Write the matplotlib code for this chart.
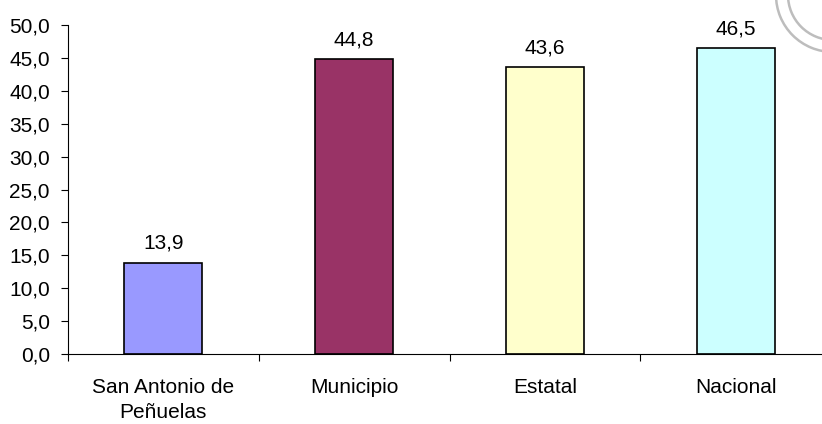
import matplotlib.pyplot as plt
from matplotlib.patches import Arc

plt.rcParams['font.family'] = ['Liberation Sans', 'DejaVu Sans']

categories = ["San Antonio de\nPeñuelas", "Municipio", "Estatal", "Nacional"]
values = [13.9, 44.8, 43.6, 46.5]
colors = ["#9999FF", "#993366", "#FFFFCC", "#CCFFFF"]

fig = plt.figure(figsize=(8.22, 4.24), dpi=100)
ax = fig.add_axes([68/822, 1-354/424, 763/822, 329/424])

x = range(len(values))
ax.bar(x, values, width=0.41, color=colors, edgecolor="black", linewidth=1.2)

for i, v in zip(x, values):
    ax.annotate(f"{v:.1f}".replace(".", ","), (i, v), xytext=(0, 7),
                textcoords="offset points", ha="center", va="bottom", fontsize=15)

ax.set_xlim(-0.5, 3.5)
ax.set_ylim(0, 50)
ax.set_yticks([i * 5 for i in range(11)])
ax.set_yticklabels([f"{i * 5:.1f}".replace(".", ",") for i in range(11)], fontsize=15)
ax.set_xticks([i - 0.5 for i in range(5)])
ax.set_xticklabels([])
ax.set_xticks(list(x), minor=True)
ax.set_xticklabels(categories, minor=True, fontsize=15)
ax.tick_params(axis="x", which="minor", length=0, pad=17)
ax.tick_params(axis="x", which="major", length=5, direction="out")
ax.tick_params(axis="y", length=5, direction="out", pad=8)
for lbl in ax.get_xticklabels(minor=True):
    lbl.set_linespacing(1.45)

ax.spines["top"].set_visible(False)
ax.spines["right"].set_visible(False)

# faint decorative arcs in top right corner
for r in [114, 90]:
    fig.patches.append(Arc((833, 429), r, r, theta1=0, theta2=360,
                           transform=None, color="#BDBDBD", lw=1.8))

fig.savefig("out.png", dpi=100)
plt.close(fig)
